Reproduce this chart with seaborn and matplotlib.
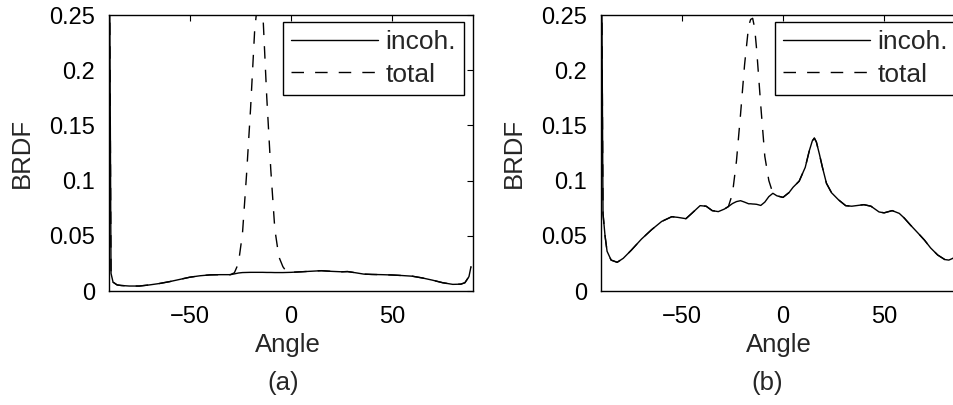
"""
BRDF vs. angle: incoherent and total components, two cases (a) and (b).
"""
import numpy as np
import pandas as pd
import matplotlib
matplotlib.use("Agg")
import matplotlib.pyplot as plt
import seaborn as sns

# --- data ---
angle_a = [-90, -89, -88, -86, -84, -80, -75, -70, -65, -60, -55, -50, -45, -40,
           -35, -30, -28, -26, -24, -22, -20, -18, -16, -15, -14, -12, -10, -8,
           -6, -4, -2, 0, 5, 10, 15, 20, 25, 28, 32, 36, 40, 45, 50, 55, 60,
           65, 70, 75, 80, 84, 86, 88, 89]
incoh_a = [0.40, 0.016, 0.008, 0.0055, 0.005, 0.0045, 0.0045, 0.0055, 0.0068,
           0.0085, 0.0105, 0.0125, 0.0138, 0.0146, 0.0148, 0.0148, 0.0155,
           0.0163, 0.0167, 0.0168, 0.0169, 0.0169, 0.0169, 0.0169, 0.0169,
           0.0168, 0.0168, 0.0167, 0.0167, 0.0167, 0.0168, 0.0169, 0.0174,
           0.0179, 0.0184, 0.0178, 0.0174, 0.0176, 0.0165, 0.0153, 0.0150,
           0.0148, 0.0145, 0.0140, 0.0134, 0.0118, 0.0098, 0.0075, 0.0060,
           0.0062, 0.0075, 0.013, 0.022]
total_a = [0.40, 0.016, 0.008, 0.0055, 0.005, 0.0045, 0.0045, 0.0055, 0.0068,
           0.0085, 0.0105, 0.0125, 0.0138, 0.0146, 0.0148, 0.0148, 0.0165,
           0.025, 0.052, 0.105, 0.165, 0.235, 0.272, 0.288, 0.255, 0.176,
           0.110, 0.056, 0.031, 0.022, 0.0168, 0.0169, 0.0174,
           0.0179, 0.0184, 0.0178, 0.0174, 0.0176, 0.0165, 0.0153, 0.0150,
           0.0148, 0.0145, 0.0140, 0.0134, 0.0118, 0.0098, 0.0075, 0.0060,
           0.0062, 0.0075, 0.013, 0.022]

angle_b = [-90, -89, -88, -87, -85, -82, -79, -75, -70, -65, -60, -55, -52, -48,
           -45, -41, -38, -35, -32, -29, -27, -25, -23, -21, -19, -17, -16, -15,
           -14, -13, -11, -9, -7, -5, -3, 0, 3, 5, 8, 11, 13, 14.5, 15.5, 16.5,
           18, 19.5, 21.5, 24, 27.5, 31, 34, 37, 40, 43.5, 47.5, 50, 54, 57.5,
           60, 63, 67, 70, 73, 76.5, 80, 82, 84, 86, 88, 89]
incoh_b = [0.40, 0.07, 0.05, 0.036, 0.028, 0.026, 0.0296, 0.037, 0.047, 0.0555,
           0.063, 0.0673, 0.0667, 0.0655, 0.0705, 0.0773, 0.0768, 0.0728,
           0.0719, 0.0742, 0.0765, 0.0792, 0.081, 0.0818, 0.0805, 0.079, 0.079,
           0.0788, 0.0787, 0.0785, 0.0775, 0.0805, 0.0855, 0.0885, 0.0862,
           0.0848, 0.0892, 0.094, 0.0995, 0.112, 0.127, 0.136, 0.1385, 0.135,
           0.124, 0.112, 0.0975, 0.089, 0.0825, 0.0773, 0.0768, 0.0775, 0.0782,
           0.0768, 0.0716, 0.0708, 0.0728, 0.0703, 0.066, 0.0598, 0.052, 0.046,
           0.039, 0.0326, 0.0285, 0.028, 0.0296, 0.033, 0.045, 0.06]
total_b = [0.40, 0.07, 0.05, 0.036, 0.028, 0.026, 0.0296, 0.037, 0.047, 0.0555,
           0.063, 0.0673, 0.0667, 0.0655, 0.0705, 0.0773, 0.0768, 0.0728,
           0.0719, 0.0742, 0.0765, 0.088, 0.118, 0.160, 0.205, 0.240, 0.246,
           0.247, 0.238, 0.218, 0.168, 0.122, 0.100, 0.0885, 0.0862,
           0.0848, 0.0892, 0.094, 0.0995, 0.112, 0.127, 0.136, 0.1385, 0.135,
           0.124, 0.112, 0.0975, 0.089, 0.0825, 0.0773, 0.0768, 0.0775, 0.0782,
           0.0768, 0.0716, 0.0708, 0.0728, 0.0703, 0.066, 0.0598, 0.052, 0.046,
           0.039, 0.0326, 0.0285, 0.028, 0.0296, 0.033, 0.045, 0.06]

panel_labels = ["(a)", "(b)"]
x_ticks = [-50, 0, 50]
y_ticks = [0, 0.05, 0.1, 0.15, 0.2, 0.25]
y_ticklabels = ["0", "0.05", "0.1", "0.15", "0.2", "0.25"]

# --- style ---
sns.set_theme(style="white")
plt.rcParams['font.family'] = ['Liberation Sans', 'DejaVu Sans']
plt.rcParams['axes.edgecolor'] = 'black'
plt.rcParams['axes.linewidth'] = 1.0

TICK_FS = 17
LABEL_FS = 18.5
LEG_FS = 19
W, H = 954, 405

fig = plt.figure(figsize=(W / 100, H / 100), dpi=100)
fig.patch.set_facecolor('white')

# axes boxes in pixels: left, top, right, bottom
boxes = [(109, 15, 473, 291), (601, 15, 965, 291)]
series = [(angle_a, incoh_a, total_a), (angle_b, incoh_b, total_b)]
ylabel_x = [22, 514]
xlabel_x = [288, 779]
caption_x = [283, 767]

for i, ((l, t, r, b), (ang, inc, tot)) in enumerate(zip(boxes, series)):
    ax = fig.add_axes([l / W, 1 - b / H, (r - l) / W, (b - t) / H])
    sns.lineplot(x=ang, y=inc, ax=ax, color='black', linewidth=1.0,
                 label='incoh.', sort=False)
    sns.lineplot(x=ang, y=tot, ax=ax, color='black', linewidth=1.0,
                 linestyle=(0, (9, 8)), label='total', sort=False)

    ax.set_xlim(-90, 90)
    ax.set_ylim(0, 0.25)
    ax.set_xticks(x_ticks)
    ax.set_yticks(y_ticks)
    ax.set_yticklabels(y_ticklabels)
    ax.tick_params(direction='in', length=4, width=0.8, top=True, right=True,
                   labelsize=TICK_FS, colors='black')
    ax.tick_params(axis='x', pad=11)
    ax.tick_params(axis='y', pad=10)
    for sp in ax.spines.values():
        sp.set_color('black')
        sp.set_linewidth(1.0)

    ax.set_xlabel('')
    ax.set_ylabel('')
    fig.text(xlabel_x[i] / W, 1 - 352 / H, 'Angle', fontsize=LABEL_FS,
             ha='center', va='baseline')
    fig.text(ylabel_x[i] / W, 1 - 153 / H, 'BRDF', rotation=90, fontsize=LABEL_FS,
             ha='center', va='center')
    fig.text(caption_x[i] / W, 1 - 390 / H, panel_labels[i], fontsize=LABEL_FS,
             ha='center', va='baseline')

    leg = ax.legend(loc='upper right', bbox_to_anchor=(1 - 9 / 364, 1 - 7 / 276),
                    borderaxespad=0, frameon=True, fancybox=False, framealpha=1,
                    edgecolor='black', fontsize=LEG_FS, handlelength=3.3,
                    handletextpad=0.27, labelspacing=0.33, borderpad=0.3)
    leg.get_frame().set_linewidth(1.0)

fig.savefig('out.png', dpi=100, facecolor='white')
